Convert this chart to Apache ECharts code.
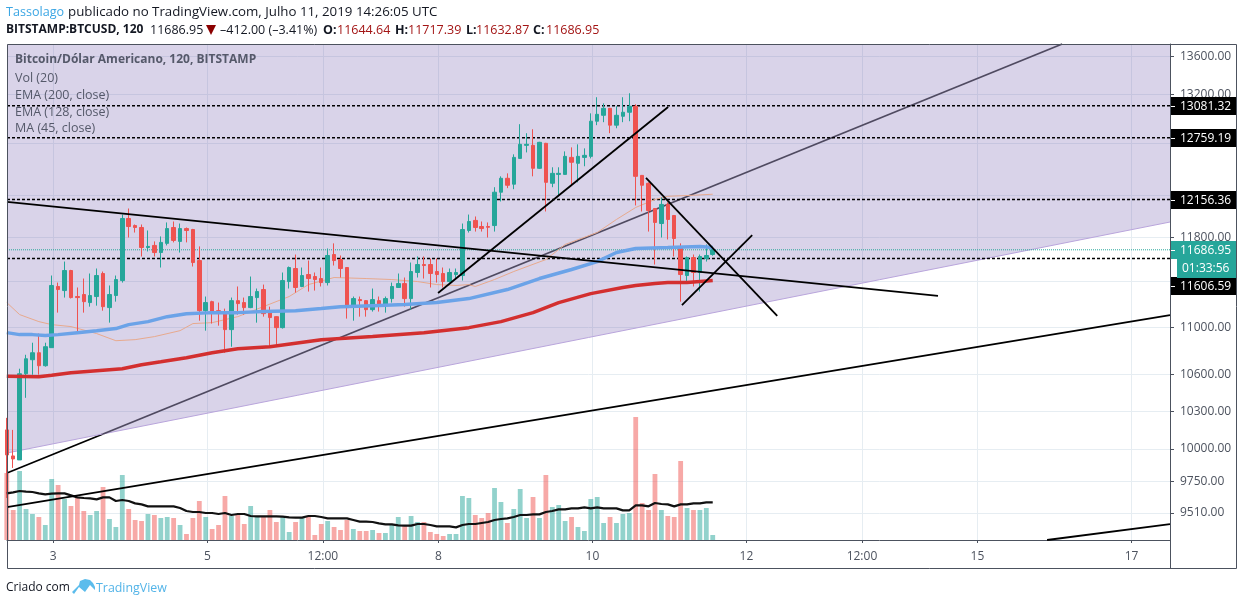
<!DOCTYPE html>
<html><head><meta charset="utf-8">
<style>html,body{margin:0;padding:0;background:#fff}#c{width:1244px;height:605px}</style>
<script src="https://cdn.jsdelivr.net/npm/echarts@6/dist/echarts.min.js"></script>
</head><body><div id="c"></div>
<script>
// Candles, one per 2 hours, oldest first
const opens=[10150,9945,9914,10606,10723,10782,10673,10825,11356,11320,11499,11267,11285,11214,11267,11472,11170,11276,11409,11977,11911,11893,11708,11727,11662,11746,11893,11764,11883,11874,11589,11143,11222,11143,11126,10979,11231,11214,11170,11258,11329,11135,11091,10996,11400,11517,11356,11463,11445,11427,11391,11644,11598,11526,11178,11240,11231,11152,11231,11196,11249,11347,11382,11249,11481,11553,11553,11490,11472,11400,11463,11454,11865,11959,11902,11902,11911,12226,12360,12303,12554,12683,12683,12457,12703,12312,12398,12398,12564,12506,12564,12574,12925,12985,13056,12885,12975,13016,13077,12388,12312,12071,11930,12110,12005,11708,11454,11616,11481,11607,11644.64];
const closes=[9953,9922,10606,10731,10782,10673,10833,11365,11329,11499,11258,11258,11222,11276,11454,11178,11285,11418,11977,11902,11893,11708,11718,11662,11755,11883,11773,11883,11865,11571,11143,11214,11135,11126,10979,11231,11205,11170,11267,11311,11117,11083,10996,11409,11526,11347,11454,11427,11418,11391,11635,11589,11517,11170,11249,11231,11152,11240,11196,11249,11356,11382,11249,11490,11553,11544,11472,11463,11400,11481,11481,11874,11949,11893,11883,11895,12226,12360,12293,12564,12693,12693,12457,12713,12321,12408,12408,12574,12516,12574,12584,12925,12995,13056,12885,12985,13016,13077,12379,12293,12052,11940,12110,11968,11791,11463,11616,11481,11626,11635,11686.95];
const highs=[10246,10150,10648,10765,10867,10945,10867,11454,11391,11580,11505,11347,11427,11472,11517,11490,11365,11454,12014,12071,11921,11921,11865,11764,11810,11940,11949,11930,11893,11880,11718,11267,11230,11214,11161,11258,11356,11258,11445,11338,11373,11178,11095,11481,11535,11644,11526,11589,11481,11526,11699,11746,11635,11530,11267,11267,11235,11338,11267,11267,11391,11472,11436,11571,11626,11626,11607,11607,11526,11517,11517,11930,12014,11996,11949,11940,12274,12379,12408,12594,12895,12804,12844,12718,12708,12467,12467,12623,12663,12693,12653,13005,13170,13107,13060,13077,13170,13211,13097,12392,12321,12075,12176,12129,12010,11746,11626,11644,11644,11736,11717.39];
const lows=[9623,9852,9914,10408,10598,10598,10665,10825,11126,11258,11250,10953,11126,11178,11187,11143,11039,11222,11391,11800,11846,11626,11672,11626,11526,11727,11755,11662,11755,11535,11056,10970,11031,11013,10782,10833,11109,11109,11165,11039,11091,10825,10850,10988,11338,11302,11350,11311,11320,11356,11365,11544,11436,11074,11056,11091,11091,11135,11135,11126,11214,11345,11178,11152,11436,11427,11347,11391,11347,11391,11418,11409,11846,11855,11855,11800,11855,12138,12265,12255,12550,12613,12379,12450,12043,12274,12197,12395,12284,12321,12477,12554,12885,12915,12804,12854,12915,12925,12100,12043,11855,11553,11800,11782,11626,11222,11400,11356,11311,11580,11632.87];
// Volume and its 20-period average
const volumes=[1340,600,1380,620,520,460,300,1220,1100,820,680,860,580,500,580,1060,420,260,1300,620,400,380,520,500,440,460,440,300,120,440,780,460,220,300,880,480,500,320,680,460,460,600,360,460,160,360,440,460,100,320,380,260,200,400,220,180,180,200,140,140,300,460,280,480,360,360,160,120,80,120,120,880,840,500,440,540,1040,760,340,620,1020,440,860,440,1300,660,700,380,460,260,180,820,860,340,460,340,520,540,2460,740,600,1320,600,480,460,1580,640,600,600,640,100];
const volumeMA=[933,953,980,967,960,933,913,927,933,933,893,853,840,833,813,853,853,780,800,780,733,713,673,673,673,673,673,640,580,560,560,540,540,520,540,500,520,520,480,473,473,473,473,467,453,447,447,480,480,460,433,433,433,433,400,367,367,360,333,313,313,293,287,287,320,320,300,273,273,273,253,300,320,320,340,360,400,420,433,460,500,500,513,513,560,580,613,613,633,633,653,633,653,633,633,633,593,593,693,693,673,740,720,713,673,713,713,733,733,753,753];
// Moving averages, read at a number of candles (index into the candle arrays)
const ema200At=[0,5,7,10,15,18,21,24,28,32,36,41,49,57,65,72,77,82,86,91,96,98,101,103,106,110];
const ema200=[10585,10581,10594,10615,10636,10648,10681,10706,10740,10782,10816,10833,10893,10919,10953,10996,11048,11126,11214,11293,11347,11365,11382,11391,11391,11409];
const ema128At=[0,2,4,6,8,11,14,17,19,22,25,28,32,36,40,45,49,52,57,62,67,72,78,83,88,92,95,98,103,108,110];
const ema128=[10953,10936,10936,10928,10936,10953,10970,10988,11022,11048,11091,11117,11126,11126,11135,11143,11161,11178,11187,11196,11214,11249,11329,11427,11508,11580,11662,11699,11708,11718,11708];
const ma45At=[0,2,5,7,10,14,17,20,23,27,29,32,36,44,47,51,56,60,64,67,70,72,73,76,79,84,87,92,95,98,101,103,107,110];
const ma45=[11214,11109,11048,11022,11005,10945,10884,10893,10919,10970,11031,11039,11091,11267,11373,11436,11427,11418,11400,11373,11365,11373,11356,11418,11490,11598,11736,11846,11968,12081,12157,12187,12197,12207];
// Hand-drawn levels and trend lines: [hour, price, hour, price]
const levels=[13081.32,12759.19,12156.36,11606.59];
const lastPrice=11686.95;
const blackLines=[[-14.43,12133,275.7,11272],[119.9,11298,191.6,13070],[-14.43,9555,348,11105],[309.7,9311.5,348,9428],[184.7,12363,225.6,11097],[195.9,11192,217.8,11823]];
const greyLineBelowBand=[-14.43,9813,15.5,10117];
const greyLineInBand=[15.5,10117,314.4,13730.5];
const bandEdge=[-14.43,9968,348,11944];
// Axes
const yTicks=[13600,13200,12700,12200,11800,11400,11000,10600,10300,10000,9750,9510];
const yLabels=[13600,13200,12700,11800,11000,10600,10300,10000,9750,9510];
const xTickHours=[0,48,84,120,168,216,252,288,336];
const xTickLabels=['3','5','12:00','8','10','12','12:00','15','17'];
const xMin=-14.43,xMax=348,yMin=9311.5,yMax=13730.5,volMax=9920;
const firstCandleHour=-14.5,candleHours=2;

const UP='#26a69a',DOWN='#ef5350',AXIS='#4c525e',FONT='"Open Sans"';
const hourOf=i=>firstCandleHour+candleHours*i;
const candleData=opens.map((o,i)=>[hourOf(i),o,closes[i],lows[i],highs[i]]);
const volData=volumes.map((v,i)=>({value:[hourOf(i),v],itemStyle:{color:closes[i]>=opens[i]?'rgba(38,166,154,.5)':'rgba(239,83,80,.5)'}}));
const pick=(at,vals)=>at.map((i,j)=>[hourOf(i),vals[j]]);
const seg=(l,color,width,z,type)=>({type:'line',data:[[l[0],l[1]],[l[2],l[3]]],symbol:'none',silent:true,z:z,
  lineStyle:{color:color,width:width,type:type||'solid'}});

const series=[];
series.push(seg(greyLineBelowBand,'#000',1.8,1));
series.push(Object.assign(seg(bandEdge,'#b9a5dc',1,2),{areaStyle:{origin:'end',color:'rgba(103,79,167,.25)',opacity:1}}));
series.push(seg(greyLineInBand,'#4f4a60',1.8,2));
series.push({type:'bar',data:volData,yAxisIndex:1,barWidth:4.8,z:3,silent:true});
levels.forEach(p=>series.push(seg([xMin,p,xMax,p],'#000',1.5,4,[3,2])));
series.push(seg([xMin,lastPrice,xMax,lastPrice],UP,1,4,[1,1]));
series.push({type:'line',data:pick(ma45At,ma45),symbol:'none',z:5,silent:true,lineStyle:{color:'#e7a98d',width:1}});
series.push({type:'candlestick',data:candleData,encode:{x:0,y:[1,2,3,4]},barWidth:4,z:6,silent:true,
  itemStyle:{color:UP,color0:DOWN,borderColor:UP,borderColor0:DOWN,borderWidth:1}});
series.push({type:'line',data:pick(ema128At,ema128),symbol:'none',z:7,silent:true,lineStyle:{color:'#6ba3e8',width:3.5}});
series.push({type:'line',data:pick(ema200At,ema200),symbol:'none',z:8,silent:true,lineStyle:{color:'#d32f2f',width:3.5}});
series.push({type:'line',data:volumeMA.map((v,i)=>[hourOf(i),v]),yAxisIndex:1,symbol:'none',z:8,silent:true,lineStyle:{color:'#111',width:2.2}});
blackLines.forEach(l=>series.push(seg(l,'#000',1.8,9)));

const chart=echarts.init(document.getElementById('c'),null,{renderer:'canvas'});
const grid={left:7,right:74,top:44,bottom:65,containLabel:false};
const option={animation:false,backgroundColor:'#fff',grid:grid,
 xAxis:{type:'value',min:xMin,max:xMax,position:'bottom',
  axisLine:{onZero:false,lineStyle:{color:AXIS,width:1}},
  axisTick:{customValues:xTickHours,length:3,lineStyle:{color:AXIS}},
  axisLabel:{customValues:xTickHours,margin:11,color:AXIS,fontFamily:FONT,fontSize:12,
    formatter:v=>xTickLabels[xTickHours.indexOf(v)]},
  splitLine:{show:true,lineStyle:{color:'#e6edf2',width:1}}},
 yAxis:[{type:'log',logBase:10,min:yMin,max:yMax,position:'right',
   axisLine:{show:true,onZero:false,lineStyle:{color:AXIS,width:1}},
   axisTick:{show:true,customValues:yTicks,length:4,lineStyle:{color:AXIS}},
   axisLabel:{customValues:yLabels,margin:10,padding:[2,0,0,0],color:AXIS,fontFamily:FONT,fontSize:12,formatter:v=>Number(v).toFixed(2)},
   splitLine:{show:true,lineStyle:{color:'#e6edf2',width:1}},minorTick:{show:false},minorSplitLine:{show:false}},
  {type:'value',min:0,max:volMax,show:false,splitLine:{show:false}}],
 series:series};
chart.setOption(option);

function txt(x,y,text,style){return {type:'text',x:x,y:y,z:50,silent:true,style:Object.assign({text:text,fill:'#131722',font:'12.5px '+FONT,verticalAlign:'middle'},style||{})};}
const g=[];
// frame
g.push({type:'polyline',z:40,silent:true,shape:{points:[[7.5,44.5],[1236.5,44.5],[1236.5,568.5],[7.5,568.5],[7.5,44.5]]},style:{stroke:AXIS,fill:'none',lineWidth:1}});
g.push({type:'line',z:40,silent:true,shape:{x1:1170.5,y1:44,x2:1170.5,y2:569},style:{stroke:AXIS,lineWidth:1}});
// header
g.push(txt(6,12,'Tassolago',{fill:'#3ba6e4',font:'12.6px '+FONT}));
g.push(txt(68,12,'publicado no TradingView.com, Julho 11, 2019 14:26:05 UTC',{font:'13.3px '+FONT}));
g.push(txt(6,30,'BITSTAMP:BTCUSD, 120',{font:'bold 12px '+FONT}));
g.push(txt(150,30,'11686.95',{font:'12.5px '+FONT}));
g.push({type:'polygon',z:50,silent:true,shape:{points:[[206,25],[216,25],[211,35]]},style:{fill:'#8b0000'}});
g.push(txt(220,30,'–412.00 (–3.41%)',{font:'12.5px '+FONT}));
[['O:',323,'11644.64',337],['H:',395,'11717.39',408],['L:',466,'11632.87',476],['C:',533,'11686.95',546]].forEach(a=>{
  g.push(txt(a[1],30,a[0],{font:'bold 12.5px '+FONT}));
  g.push(txt(a[3],30,a[2],{fill:'#a31515',font:'12.5px '+FONT}));
});
// pane legend
[['Bitcoin/Dólar Americano, 120, BITSTAMP',60,true],['Vol (20)',78],['EMA (200, close)',95],['EMA (128, close)',112],['MA (45, close)',128]].forEach(a=>{
  g.push(txt(15,a[1],a[0],{fill:'#55596a',font:(a[2]?'bold 12px ':'12.5px ')+FONT}));
});
// price tags
function tag(price,bg,dy){
  const y=Math.round(chart.convertToPixel({yAxisIndex:0},price))+(dy||0);
  g.push({type:'rect',z:45,silent:true,shape:{x:1171,y:y-9,width:65,height:18},style:{fill:bg}});
  g.push({type:'line',z:46,silent:true,shape:{x1:1171,y1:y+.5,x2:1175,y2:y+.5},style:{stroke:'#fff',lineWidth:1}});
  g.push(txt(1180,y+.5,price.toFixed(2),{fill:'#fff',font:'12px '+FONT}));
  return y;
}
levels.forEach(p=>tag(p,'#000',p===11606.59?27:0));
const yLast=tag(lastPrice,UP,0);
g.push({type:'rect',z:45,silent:true,shape:{x:1177,y:yLast+9,width:59,height:19},style:{fill:UP}});
g.push(txt(1182,yLast+19,'01:33:56',{fill:'#fff',font:'12px '+FONT}));
// footer
g.push(txt(6,588,'Criado com',{font:'12px '+FONT}));
g.push({type:'polygon',z:50,silent:true,shape:{points:[[72,592],[79,585],[80,581],[85,579],[90,580],[93,583],[95,587],[95,590],[90,585],[85,592],[79,587],[74,594]]},style:{fill:'#5bbcec'}});
g.push(txt(96,588,'TradingView',{fill:'#53b4e8',font:'12.4px '+FONT}));
chart.setOption({graphic:g});
</script></body></html>
